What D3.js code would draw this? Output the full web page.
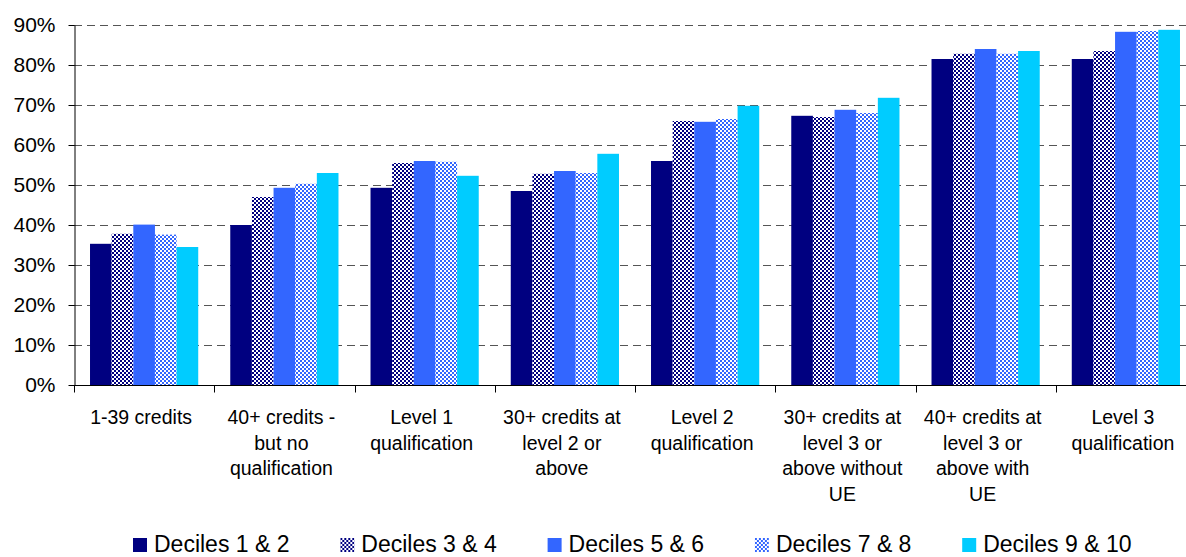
<!DOCTYPE html>
<html>
<head>
<meta charset="utf-8">
<script src="https://cdn.jsdelivr.net/npm/d3@7"></script>
<style>
  body { margin: 0; background: #fff; }
  svg { display: block; font-family: "Liberation Sans", Arial, sans-serif; }
</style>
</head>
<body>
<div id="chart"></div>
<script>
// categories along the x axis
const categories = [
  "1-39 credits",
  "40+ credits - but no qualification",
  "Level 1 qualification",
  "30+ credits at level 2 or above",
  "Level 2 qualification",
  "30+ credits at level 3 or above without UE",
  "40+ credits at level 3 or above with UE",
  "Level 3 qualification",
];

const seriesNames = [
  "Deciles 1 & 2",
  "Deciles 3 & 4",
  "Deciles 5 & 6",
  "Deciles 7 & 8",
  "Deciles 9 & 10",
];

// values in percent
const deciles12 = [35.3, 40.0, 49.3, 48.5, 56.0, 67.3, 81.5, 81.5];
const deciles34 = [37.8, 47.0, 55.5, 52.8, 66.0, 67.0, 82.8, 83.5];
const deciles56 = [40.1, 49.3, 56.0, 53.5, 65.8, 68.8, 84.0, 88.3];
const deciles78 = [37.6, 50.3, 55.8, 53.0, 66.5, 68.0, 82.8, 88.5];
const deciles910 = [34.5, 53.0, 52.3, 57.8, 69.8, 71.8, 83.5, 88.8];

const yTicks = [0, 10, 20, 30, 40, 50, 60, 70, 80, 90];

const seriesValues = [deciles12, deciles34, deciles56, deciles78, deciles910];

var width = 1186,
  height = 557;

var svg = d3
  .select("#chart")
  .append("svg")
  .attr("width", width)
  .attr("height", height);

// patterns for the checkered series
var defs = svg.append("defs");
function checker(id, color) {
  var p = defs
    .append("pattern")
    .attr("id", id)
    .attr("patternUnits", "userSpaceOnUse")
    .attr("width", 4)
    .attr("height", 4);
  p.append("rect").attr("width", 4).attr("height", 4).attr("fill", "#fff");
  p.append("rect").attr("width", 2).attr("height", 2).attr("fill", color);
  p.append("rect").attr("x", 2).attr("y", 2).attr("width", 2).attr("height", 2).attr("fill", color);
}
checker("chk-navy", "#000080");
checker("chk-blue", "#3366FF");

const fills = ["#000080", "url(#chk-navy)", "#3366FF", "url(#chk-blue)", "#00CCFF"];

// plot area
var plotLeft = 74,
  plotRight = 1196,
  plotTop = 25,
  plotBottom = 385;

var x0 = d3.scaleBand().domain(categories).range([plotLeft, plotRight]).padding(0);
var x1 = d3
  .scaleBand()
  .domain(seriesNames)
  .range([0, x0.bandwidth()])
  .paddingInner(0)
  .paddingOuter(0.74);
var y = d3.scaleLinear().domain([0, 90]).range([plotBottom, plotTop]);

// dashed grid lines
svg
  .append("g")
  .selectAll("line")
  .data(yTicks.filter((d) => d > 0))
  .enter()
  .append("line")
  .attr("x1", plotLeft)
  .attr("x2", plotRight)
  .attr("y1", (d) => Math.round(y(d)) + 0.5)
  .attr("y2", (d) => Math.round(y(d)) + 0.5)
  .attr("stroke", "#555")
  .attr("stroke-width", 1)
  .attr("stroke-dasharray", "8,5");

// bars
var groups = svg
  .append("g")
  .selectAll("g")
  .data(seriesNames)
  .enter()
  .append("g")
  .attr("fill", (d, i) => fills[i]);

groups
  .selectAll("rect")
  .data((s, i) => seriesValues[i].map((v, j) => ({ cat: categories[j], series: s, value: v })))
  .enter()
  .append("rect")
  .attr("x", (d) => x0(d.cat) + x1(d.series))
  .attr("y", (d) => y(d.value))
  .attr("width", x1.bandwidth())
  .attr("height", (d) => y(0) - y(d.value));

// y axis
var yAxis = svg
  .append("g")
  .attr("transform", "translate(" + (plotLeft + 0.5) + ",0)")
  .call(
    d3
      .axisLeft(y)
      .tickValues(yTicks)
      .tickFormat((d) => d + "%")
      .tickSize(6)
      .tickSizeOuter(0)
      .tickPadding(13)
  );
yAxis.selectAll("text").attr("font-size", 21).attr("fill", "#000");
yAxis.attr("font-family", null);
yAxis.select(".domain").attr("stroke", "#000");
yAxis.selectAll(".tick line").attr("stroke", "#000");

// x axis: ticks between categories
var xAxis = svg
  .append("g")
  .attr("transform", "translate(0," + (plotBottom + 0.5) + ")");
xAxis
  .append("line")
  .attr("x1", plotLeft)
  .attr("x2", plotRight)
  .attr("stroke", "#000");
xAxis
  .selectAll(".sep")
  .data(categories)
  .enter()
  .append("line")
  .attr("class", "sep")
  .attr("x1", (d) => Math.round(x0(d)) + 0.5)
  .attr("x2", (d) => Math.round(x0(d)) + 0.5)
  .attr("y1", 0)
  .attr("y2", 7)
  .attr("stroke", "#000");

// category labels, wrapped like the original
var labels = svg
  .append("g")
  .selectAll("text")
  .data(categories)
  .enter()
  .append("text")
  .attr("x", (d) => x0(d) + x0.bandwidth() / 2 - 3)
  .attr("y", 424)
  .attr("text-anchor", "middle")
  .attr("font-size", 19.5)
  .attr("fill", "#000")
  .text((d) => d);

function wrap(text, maxWidth) {
  text.each(function () {
    var t = d3.select(this);
    var words = t.text().split(" ");
    var xx = t.attr("x");
    var yy = t.attr("y");
    t.text(null);
    var line = [];
    var lineNo = 0;
    var tspan = t.append("tspan").attr("x", xx).attr("y", yy);
    words.forEach((w) => {
      line.push(w);
      tspan.text(line.join(" "));
      if (tspan.node().getComputedTextLength() > maxWidth && line.length > 1) {
        line.pop();
        tspan.text(line.join(" "));
        line = [w];
        lineNo++;
        tspan = t
          .append("tspan")
          .attr("x", xx)
          .attr("y", +yy + lineNo * 25.5)
          .text(w);
      }
    });
  });
}
labels.call(wrap, 121);

// legend
var legend = svg
  .append("g")
  .selectAll("g")
  .data(seriesNames)
  .enter()
  .append("g")
  .attr("transform", (d, i) => "translate(" + (133 + i * 207.3) + ",538)");

legend
  .append("rect")
  .attr("width", 14)
  .attr("height", 14)
  .attr("fill", (d, i) => fills[i]);

legend
  .append("text")
  .attr("x", 21)
  .attr("y", 14)
  .attr("font-size", 23)
  .attr("fill", "#000")
  .text((d) => d);
</script>
</body>
</html>
